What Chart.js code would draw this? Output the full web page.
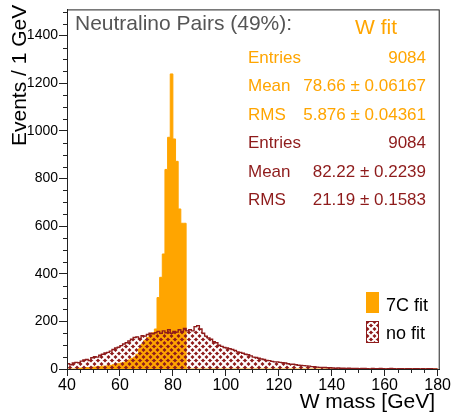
<!DOCTYPE html>
<html>
<head>
<meta charset="utf-8">
<script src="https://cdn.jsdelivr.net/npm/chart.js@4"></script>
<style>
  html, body { margin: 0; padding: 0; background: #fff; }
  #wrap { width: 451px; height: 412px; }
</style>
</head>
<body>
<div id="wrap"><canvas id="c" width="451" height="412"></canvas></div>
<script>
// ---- data: 1 GeV bins, lower edges 40..179 ----
const binStart = 40;
const noFit = [
  20, 22, 18, 25, 28, 26, 33, 38, 40, 36,
  47, 52, 50, 58, 62, 67, 70, 75, 82, 88,
  92, 98, 105, 110, 118, 125, 132, 135, 128, 140,
  138, 145, 150, 148, 152, 158, 150, 160, 152, 165,
  150, 158, 155, 165, 158, 170, 160, 165, 160, 178,
  182, 168, 150, 138, 130, 125, 115, 110, 100, 95,
  90, 88, 85, 82, 78, 72, 70, 66, 62, 60,
  55, 50, 48, 45, 42, 40, 36, 35, 32, 30,
  30, 28, 26, 25, 22, 20, 20, 18, 16, 15,
  14, 13, 12, 10, 10, 8, 7, 7, 6, 5,
  5, 4, 3, 4, 3, 3, 2, 3, 2, 2,
  2, 1, 2, 2, 1, 0, 2, 1, 1, 2,
  1, 0, 1, 2, 1, 0, 1, 1, 0, 1,
  1, 0, 1, 1, 0, 1, 0, 1, 1, 0
];
const fit7C = [
  0, 0, 0, 0, 0, 3, 4, 5, 6, 6,
  8, 8, 10, 10, 12, 12, 14, 15, 18, 20,
  22, 25, 28, 32, 38, 44, 50, 62, 85, 105,
  120, 132, 145, 152, 168, 300, 385, 483, 838, 973,
  1239, 966, 872, 672, 612, 612, 0, 0, 0, 0,
  0, 0, 0, 0, 0, 0, 0, 0, 0, 0,
  0, 0, 0, 0, 0, 0, 0, 0, 0, 0,
  0, 0, 0, 0, 0, 0, 0, 0, 0, 0,
  0, 0, 0, 0, 0, 0, 0, 0, 0, 0,
  0, 0, 0, 0, 0, 0, 0, 0, 0, 0,
  0, 0, 0, 0, 0, 0, 0, 0, 0, 0,
  0, 0, 0, 0, 0, 0, 0, 0, 0, 0,
  0, 0, 0, 0, 0, 0, 0, 0, 0, 0,
  0, 0, 0, 0, 0, 0, 0, 0, 0, 0
];
const yMajorTicks = [0, 200, 400, 600, 800, 1000, 1200, 1400];
const xMajorTicks = [40, 60, 80, 100, 120, 140, 160, 180];
const statsFit = [['Entries', '9084'], ['Mean', '78.66 \u00b1 0.06167'], ['RMS', '5.876 \u00b1 0.04361']];
const statsNoFit = [['Entries', '9084'], ['Mean', '82.22 \u00b1 0.2239'], ['RMS', '21.19 \u00b1 0.1583']];

const ORANGE = '#ffa500';
const DARKRED = '#8e1b1b';
const FONT = '"Liberation Sans", Arial, Helvetica, sans-serif';

// histogram -> step points (last edge repeats the last value)
function toSteps(values) {
  const pts = values.map((v, i) => ({ x: binStart + i, y: v }));
  pts.push({ x: binStart + values.length, y: values[values.length - 1] });
  return pts;
}

// ROOT-like woven hatch: dark red with see-through diagonals
function makeHatch() {
  const c = document.createElement('canvas');
  c.width = 7; c.height = 7;
  const g = c.getContext('2d');
  g.fillStyle = DARKRED;
  g.fillRect(0, 0, 7, 7);
  g.globalCompositeOperation = 'destination-out';
  g.lineWidth = 2.1;
  g.beginPath();
  for (let k = -7; k <= 14; k += 7) {
    g.moveTo(k, 7); g.lineTo(k + 7, 0);
    g.moveTo(k, 0); g.lineTo(k + 7, 7);
  }
  g.stroke();
  return g.createPattern(c, 'repeat');
}
const hatch = makeHatch();

// frame, minor ticks, titles, stats box, legend
const decor = {
  id: 'decor',
  afterDraw(chart) {
    const { ctx, chartArea: a, scales } = chart;
    ctx.save();
    ctx.strokeStyle = '#222';
    ctx.lineWidth = 1;
    ctx.strokeRect(a.left + 0.5, a.top + 0.5, a.right - a.left - 1, a.bottom - a.top);

    ctx.beginPath();
    for (let v = 0; v <= 1500; v += 50) {
      if (v % 200 === 0) continue;
      const y = Math.round(scales.y.getPixelForValue(v)) + 0.5;
      ctx.moveTo(a.left - 4, y); ctx.lineTo(a.left, y);
    }
    for (let v = 40; v <= 180; v += 5) {
      if (v % 20 === 0) continue;
      const x = Math.round(scales.x.getPixelForValue(v)) + 0.5;
      ctx.moveTo(x, a.bottom); ctx.lineTo(x, a.bottom + 4);
    }
    ctx.stroke();

    // axis titles
    ctx.fillStyle = '#000';
    ctx.font = `21px ${FONT}`;
    ctx.textAlign = 'right';
    ctx.textBaseline = 'alphabetic';
    ctx.fillText('W mass [GeV]', 435, 408);
    ctx.save();
    ctx.translate(26, 146);
    ctx.rotate(-Math.PI / 2);
    ctx.textAlign = 'left';
    ctx.fillText('Events / 1 GeV', 0, 0);
    ctx.restore();

    // header
    ctx.textAlign = 'left';
    ctx.fillStyle = '#555';
    ctx.fillText('Neutralino Pairs (49%):', 75, 30);
    ctx.fillStyle = ORANGE;
    ctx.fillText('W fit', 355, 34);

    // stats
    ctx.font = `17px ${FONT}`;
    const rows = [...statsFit.map(r => [r, ORANGE]), ...statsNoFit.map(r => [r, DARKRED])];
    rows.forEach(([r, col], i) => {
      const y = 63 + i * 28.4;
      ctx.fillStyle = col;
      ctx.textAlign = 'left';
      ctx.fillText(r[0], 248, y);
      ctx.textAlign = 'right';
      ctx.fillText(r[1], 426, y);
    });

    // legend
    ctx.fillStyle = ORANGE;
    ctx.fillRect(366, 292, 13, 21);
    ctx.fillStyle = '#fff';
    ctx.fillRect(366, 321, 13, 22);
    ctx.fillStyle = hatch;
    ctx.fillRect(366, 321, 13, 22);
    ctx.strokeStyle = DARKRED;
    ctx.strokeRect(366.5, 321.5, 12, 21);
    ctx.fillStyle = '#000';
    ctx.textAlign = 'left';
    ctx.font = `18px ${FONT}`;
    ctx.fillText('7C fit', 386, 311);
    ctx.fillText('no fit', 386, 339);
    ctx.restore();
  }
};

new Chart(document.getElementById('c'), {
  type: 'line',
  data: {
    datasets: [
      {
        label: 'no fit',
        data: toSteps(noFit),
        stepped: 'after',
        fill: 'origin',
        backgroundColor: hatch,
        borderColor: DARKRED,
        borderWidth: 1.4,
        pointRadius: 0,
        order: 0,
      },
      {
        label: '7C fit',
        data: toSteps(fit7C),
        stepped: 'after',
        fill: 'origin',
        backgroundColor: ORANGE,
        borderColor: ORANGE,
        borderWidth: 1,
        pointRadius: 0,
        order: 1,
      },
    ],
  },
  options: {
    responsive: false,
    animation: false,
    layout: { padding: { top: 7, right: 10, left: 0, bottom: 0 } },
    plugins: { legend: { display: false }, tooltip: { enabled: false } },
    scales: {
      x: {
        type: 'linear',
        min: 40,
        max: 180.8,
        afterBuildTicks: (s) => { s.ticks = xMajorTicks.map((v) => ({ value: v })); },
        afterFit: (s) => { s.height = 43; },
        grid: { drawOnChartArea: false, tickLength: 7, color: '#222' },
        border: { color: '#222' },
        ticks: { color: '#000', font: { family: FONT, size: 16 }, padding: 0, maxRotation: 0, callback: (v) => String(v) },
      },
      y: {
        min: 0,
        max: 1510,
        afterBuildTicks: (s) => { s.ticks = yMajorTicks.map((v) => ({ value: v })); },
        afterFit: (s) => { s.width = 67; },
        grid: { drawOnChartArea: false, tickLength: 8, color: '#222' },
        border: { color: '#222' },
        ticks: { color: '#000', font: { family: FONT, size: 14 }, padding: 1, callback: (v) => String(v) },
      },
    },
  },
  plugins: [decor],
});
</script>
</body>
</html>
